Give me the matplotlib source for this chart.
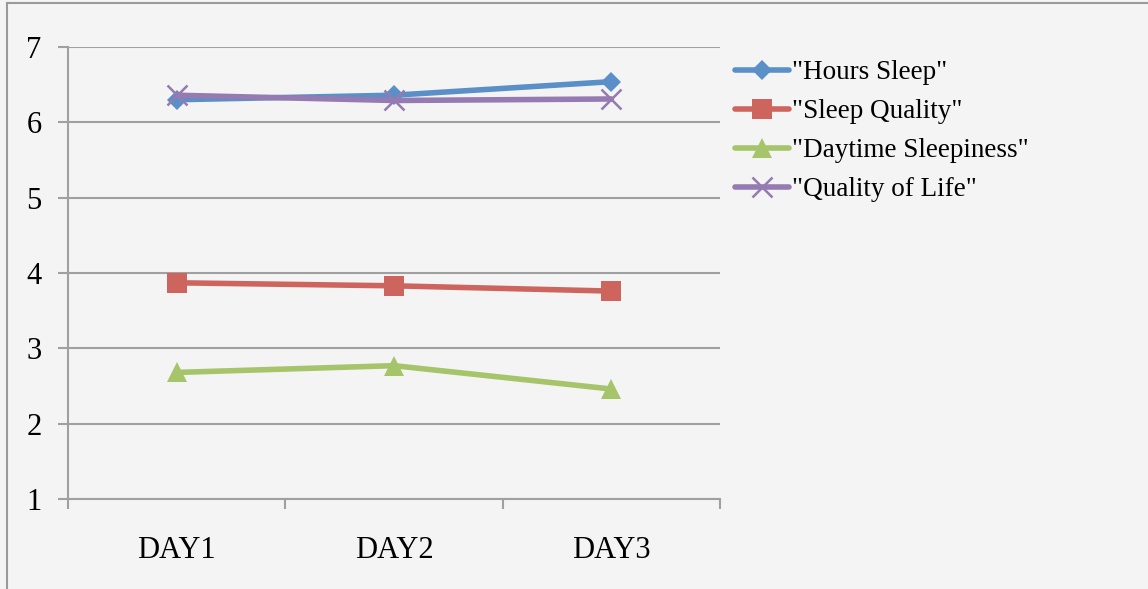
import numpy as np
import matplotlib.pyplot as plt

# data
days = ["DAY1", "DAY2", "DAY3"]
hours_sleep = [6.30, 6.36, 6.54]
sleep_quality = [3.87, 3.83, 3.76]
daytime_sleepiness = [2.68, 2.77, 2.46]
quality_of_life = [6.36, 6.29, 6.31]

bg = "#f4f4f4"
grid_col = "#a0a0a0"

fig = plt.figure(figsize=(11.48, 5.89), dpi=100, facecolor=bg)
ax = fig.add_axes([68 / 1148, 90 / 589, 652 / 1148, 452 / 589])
ax.set_facecolor(bg)

# figure border (only left/top visible in the reference)
fig.add_artist(plt.Line2D([7 / 1148, 7 / 1148], [0, 1 - 3 / 589], color="#9a9a9a", lw=1.5))
fig.add_artist(plt.Line2D([7 / 1148, 1], [1 - 3 / 589, 1 - 3 / 589], color="#9a9a9a", lw=1.5))

x = np.arange(len(days)) + 0.5
series = [
    ('"Hours Sleep"', hours_sleep, "#5b8fc7", "D", 10, 0),
    ('"Sleep Quality"', sleep_quality, "#cd655e", "s", 14, 0),
    ('"Daytime Sleepiness"', daytime_sleepiness, "#a6c46a", "^", 14, 0),
    ('"Quality of Life"', quality_of_life, "#957bb1", "x", 14, 1.8),
]
for label, vals, col, mk, ms, mew in series:
    ax.plot(x, vals, color=col, lw=4, marker=mk, markersize=ms,
            markerfacecolor=col, markeredgecolor=col, markeredgewidth=mew,
            label=label, solid_capstyle="round")

ax.set_xlim(0, 3)
ax.set_ylim(1, 7)
ax.set_yticks(range(1, 8))
ax.yaxis.grid(True, color=grid_col, lw=1.5)
ax.set_axisbelow(True)

ax.set_xticks([0, 1, 2, 3])
ax.set_xticklabels([])
ax.set_xticks(x, minor=True)
ax.set_xticklabels(days, minor=True)
ax.tick_params(axis="x", which="major", direction="out", length=7, width=1.5, color=grid_col)
ax.tick_params(axis="x", which="minor", length=0, pad=27)
ax.tick_params(axis="y", direction="out", length=7, width=1.5, color=grid_col, pad=12)
for lab in ax.get_xticklabels(minor=True) + ax.get_yticklabels():
    lab.set_fontfamily("Liberation Serif")
    lab.set_fontsize(22)

for s in ["top", "right"]:
    ax.spines[s].set_visible(False)
for s in ["left", "bottom"]:
    ax.spines[s].set_color(grid_col)
    ax.spines[s].set_linewidth(1.5)

leg = ax.legend(loc="upper left", bbox_to_anchor=(1.006, 0.995), frameon=False,
                prop={"family": "Liberation Serif", "size": 19.5},
                handlelength=2.0, handletextpad=0.1, labelspacing=0.52,
                borderaxespad=0)

fig.savefig("out.png", dpi=100, facecolor=bg)
